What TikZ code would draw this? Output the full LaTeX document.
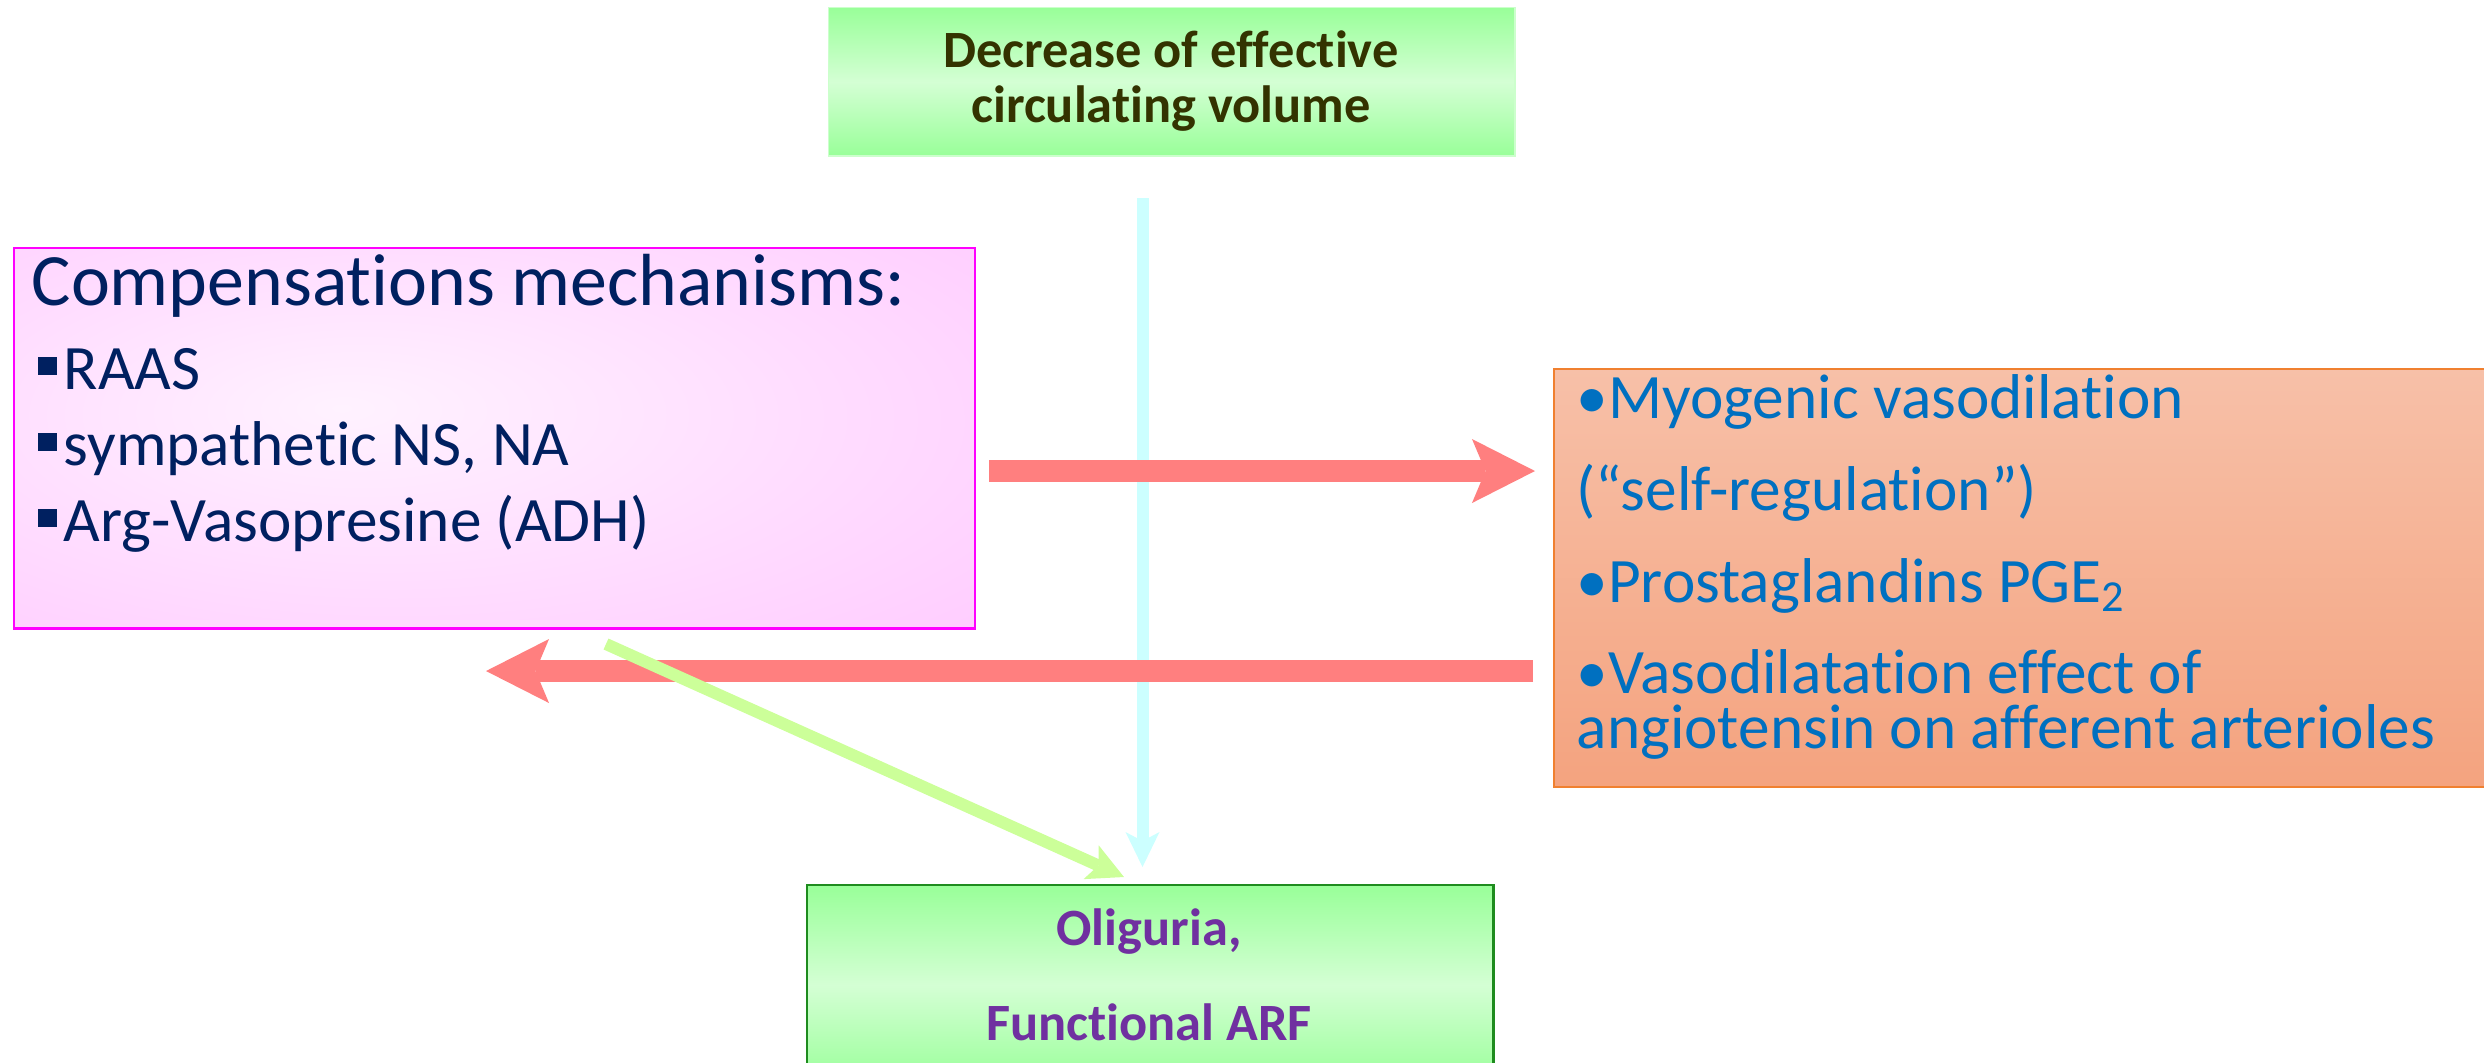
\documentclass[tikz,border=0pt]{standalone}
\usepackage{fontspec}
\setmainfont{Carlito}[RawFeature={-liga;-clig;-calt;-dlig}]
\usetikzlibrary{arrows.meta}
\definecolor{gEdge}{HTML}{99FF99}
\definecolor{gMid}{HTML}{D4FFD4}
\definecolor{gBorderTop}{HTML}{CCFFCC}
\definecolor{gBorderBot}{HTML}{1E8C1E}
\definecolor{pinkIn}{HTML}{FFF2FF}
\definecolor{pinkMid}{HTML}{FFDDFF}
\definecolor{pinkOut}{HTML}{FFC8FF}
\definecolor{magentaB}{HTML}{FF00FF}
\definecolor{orTop}{HTML}{F7C0A8}
\definecolor{orBot}{HTML}{F4A37F}
\definecolor{orBorder}{HTML}{F08030}
\definecolor{oliveT}{HTML}{333300}
\definecolor{purpleT}{HTML}{7030A0}
\definecolor{navyT}{HTML}{002060}
\definecolor{blueT}{HTML}{0070C0}
\definecolor{arrRed}{HTML}{FF7F7F}
\definecolor{arrCyan}{HTML}{CCFFFF}
\definecolor{arrGreen}{HTML}{CCFF99}
\pgfdeclareradialshading{pinkrad}{\pgfpoint{-8bp}{4bp}}{color(0bp)=(pinkIn); color(22bp)=(pinkMid); color(45bp)=(pinkOut); color(70bp)=(pinkOut)}
\tikzset{
  greenbox/.style={shade, top color=gEdge, bottom color=gEdge, middle color=gMid, inner sep=0pt, anchor=north west},
  pinkbox/.style={shading=pinkrad, draw=magentaB, line width=0.7pt, inner sep=0pt, anchor=north west},
  orangebox/.style={shade, top color=orTop, bottom color=orBot, draw=orBorder, line width=0.5pt, inner sep=0pt, anchor=north west},
  smalltitle/.style={inner sep=0pt, anchor=base, font=\fontsize{14.9pt}{17pt}\selectfont\bfseries},
  lefttxt/.style={inner sep=0pt, anchor=base west, text=navyT, font=\fontsize{18pt}{21pt}\selectfont},
  righttxt/.style={inner sep=0pt, anchor=base west, text=blueT, font=\fontsize{18pt}{21pt}\selectfont},
  redarrow/.style={draw=arrRed, line width=0.215cm, -{Stealth[length=0.63cm,width=0.64cm,inset=0.135cm,line width=0pt]}},
  cyanarrow/.style={draw=arrCyan, line width=0.12cm, -{Stealth[length=0.35cm,width=0.34cm,inset=0.09cm,line width=0pt]}},
  greenarrow/.style={draw=arrGreen, line width=0.12cm, -{Stealth[length=0.36cm,width=0.37cm,inset=0.08cm,line width=0pt]}}
}
\begin{document}
\begin{tikzpicture}[x=0.01cm,y=-0.01cm]
\useasboundingbox (0,0) rectangle (2484,1062);
\clip (0,0) rectangle (2484,1062);
% boxes
\node[greenbox, draw=gBorderTop, line width=0.4pt, minimum width=6.86cm, minimum height=1.48cm] (top) at (828,7) {};
\node[pinkbox, minimum width=9.60cm, minimum height=3.80cm] (left) at (13,247) {};
\node[orangebox, minimum width=9.50cm, minimum height=4.18cm] (right) at (1553,368) {};
\node[greenbox, draw=gBorderBot, line width=0.6pt, minimum width=6.86cm, minimum height=2.00cm] (bot) at (806,884) {};
% texts
\node[smalltitle, text=oliveT] (top1) at (1171,67) {Decrease of effective};
\node[smalltitle, text=oliveT] (top2) at (1171,122) {circulating volume};
\node[smalltitle, text=purpleT] (bot1) at (1149,945) {Oliguria,};
\node[smalltitle, text=purpleT] (bot2) at (1149,1040) {Functional ARF};
\node[lefttxt, font=\fontsize{21pt}{25pt}\selectfont] (lt) at (31,305) {Compensations mechanisms:};
\node[lefttxt] (l1) at (37,389) {\rule[0.14cm]{0.19cm}{0.18cm}\hspace{0.07cm}RAAS};
\node[lefttxt] (l2) at (37,465) {\rule[0.14cm]{0.19cm}{0.18cm}\hspace{0.07cm}sympathetic NS, NA};
\node[lefttxt] (l3) at (37,541) {\rule[0.14cm]{0.19cm}{0.18cm}\hspace{0.07cm}Arg-Vasopresine (ADH)};
\node[righttxt] (r1) at (1576,418) {•Myogenic vasodilation};
\node[righttxt] (r2) at (1576,510) {(“self-regulation”)};
\node[righttxt] (r3) at (1576,602) {•Prostaglandins PGE\textsubscript{2}};
\node[righttxt] (r4) at (1576,693) {•Vasodilatation effect of};
\node[righttxt] (r5) at (1576,748) {angiotensin on afferent arterioles};
% arrow ends
\coordinate (cA) at (1142.5,198);
\coordinate (cB) at (1142.5,867);
\coordinate (rA) at (989,471);
\coordinate (rB) at (1535,471);
\coordinate (lA) at (1533,671);
\coordinate (lB) at (486,671);
\coordinate (gA) at (606,644);
\coordinate (gB) at (1124,877);
% connectors
\draw[cyanarrow] (cA) -- (cB);
\draw[redarrow] (rA) -- (rB);
\draw[redarrow] (lA) -- (lB);
\draw[greenarrow] (gA) -- (gB);
\end{tikzpicture}
\end{document}
